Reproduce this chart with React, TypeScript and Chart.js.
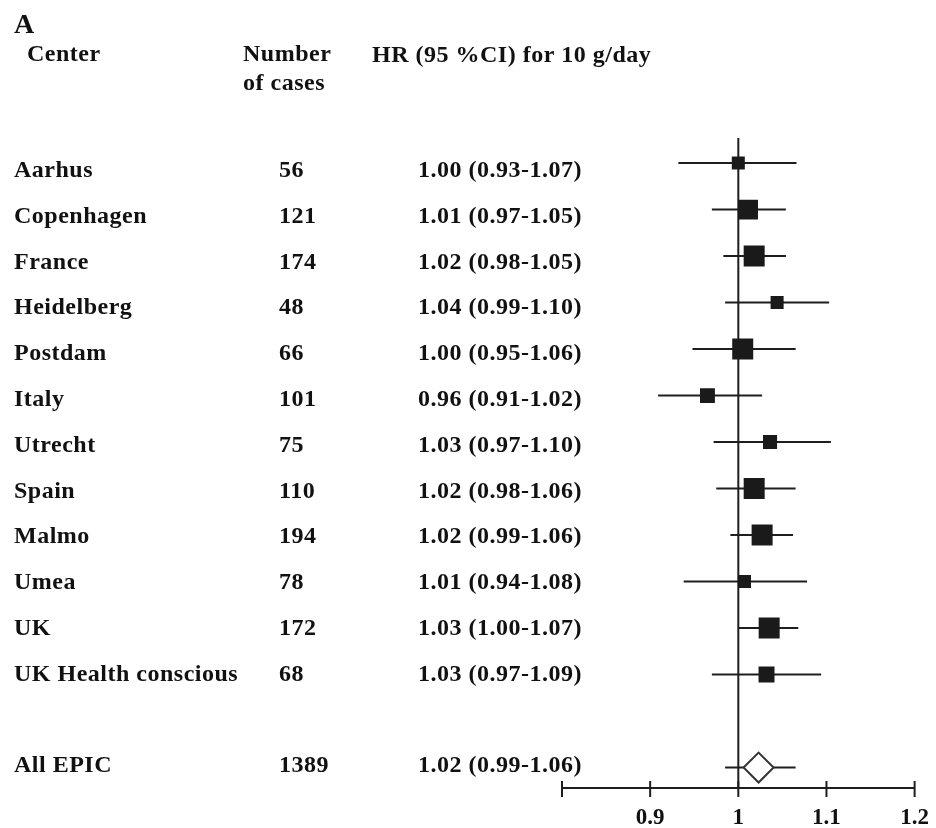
import React, { useEffect, useRef } from 'react';
import { Chart, registerables } from 'chart.js';

Chart.register(...registerables);

// ---- data ----
const centers = [
  'Aarhus', 'Copenhagen', 'France', 'Heidelberg', 'Postdam', 'Italy',
  'Utrecht', 'Spain', 'Malmo', 'Umea', 'UK', 'UK Health conscious',
];
const cases = [56, 121, 174, 48, 66, 101, 75, 110, 194, 78, 172, 68];
const hrLabels = [
  '1.00 (0.93-1.07)', '1.01 (0.97-1.05)', '1.02 (0.98-1.05)', '1.04 (0.99-1.10)',
  '1.00 (0.95-1.06)', '0.96 (0.91-1.02)', '1.03 (0.97-1.10)', '1.02 (0.98-1.06)',
  '1.02 (0.99-1.06)', '1.01 (0.94-1.08)', '1.03 (1.00-1.07)', '1.03 (0.97-1.09)',
];
const hr = [1.0, 1.011, 1.018, 1.044, 1.005, 0.965, 1.036, 1.018, 1.027, 1.007, 1.035, 1.032];
const lower = [0.932, 0.97, 0.983, 0.985, 0.948, 0.909, 0.972, 0.975, 0.991, 0.938, 1.0, 0.97];
const upper = [1.066, 1.054, 1.054, 1.103, 1.065, 1.027, 1.105, 1.065, 1.062, 1.078, 1.068, 1.094];
const weights = [0.62, 0.95, 1.0, 0.62, 1.0, 0.71, 0.67, 1.0, 1.0, 0.62, 1.0, 0.76];

const overallName = 'All EPIC';
const overallCases = 1389;
const overallLabel = '1.02 (0.99-1.06)';
const overallHr = 1.023;
const overallLower = 0.985;
const overallUpper = 1.065;

const xTickValues = [0.8, 0.9, 1, 1.1, 1.2];
const xTickLabels = ['', '0.9', '1', '1.1', '1.2'];

const panelLetter = 'A';
const headerCenter = 'Center';
const headerCases = ['Number', 'of cases'];
const headerHr = 'HR (95 %CI) for 10 g/day';

// row indices: studies 1..12, blank 13, overall 14
const studyRows = centers.map((_, i) => i + 1);
const overallRow = centers.length + 2;

const FONT = '"Liberation Serif", "Times New Roman", serif';
const INK = '#111111';

const forestPlugin = {
  id: 'forest',
  beforeDatasetsDraw(chart: any) {
    const { ctx, chartArea, scales } = chart;
    const x = scales.x;
    const y = scales.y;
    ctx.save();
    ctx.strokeStyle = '#1e1e1e';
    ctx.lineWidth = 2;
    // reference line at HR = 1
    const x1 = x.getPixelForValue(1);
    ctx.beginPath();
    ctx.moveTo(x1, chartArea.top);
    ctx.lineTo(x1, chartArea.bottom);
    ctx.stroke();
    // confidence intervals
    const drawCI = (lo: number, hi: number, row: number) => {
      const py = y.getPixelForValue(row);
      ctx.beginPath();
      ctx.moveTo(x.getPixelForValue(lo), py);
      ctx.lineTo(x.getPixelForValue(hi), py);
      ctx.stroke();
    };
    studyRows.forEach((r, i) => drawCI(lower[i], upper[i], r));
    drawCI(overallLower, overallUpper, overallRow);
    ctx.restore();
  },
  afterDraw(chart: any) {
    const { ctx, chartArea, scales } = chart;
    const x = scales.x;
    const yt = scales.yText;
    ctx.save();
    // tick marks crossing the axis
    ctx.strokeStyle = '#1e1e1e';
    ctx.lineWidth = 2;
    x.ticks.forEach((t: any) => {
      const px = x.getPixelForValue(t.value);
      ctx.beginPath();
      ctx.moveTo(px, chartArea.bottom - 7);
      ctx.lineTo(px, chartArea.bottom + 9);
      ctx.stroke();
    });

    ctx.fillStyle = INK;
    ctx.textAlign = 'left';
    ctx.textBaseline = 'alphabetic';
    (ctx as any).letterSpacing = '0.5px';
    ctx.font = `bold 24px ${FONT}`;
    const colName = 14;
    const colCases = 279;
    const colHr = 418;
    studyRows.forEach((r, i) => {
      const py = yt.getPixelForValue(r);
      ctx.fillText(centers[i], colName, py);
      ctx.fillText(String(cases[i]), colCases, py);
      ctx.fillText(hrLabels[i], colHr, py);
    });
    const po = yt.getPixelForValue(overallRow);
    ctx.fillText(overallName, colName, po);
    ctx.fillText(String(overallCases), colCases, po);
    ctx.fillText(overallLabel, colHr, po);

    // headers
    ctx.fillText(headerCenter, 27, 61);
    ctx.fillText(headerCases[0], 243, 61);
    ctx.fillText(headerCases[1], 243, 90);
    ctx.fillText(headerHr, 372, 62);
    ctx.font = `bold 28px ${FONT}`;
    (ctx as any).letterSpacing = '0px';
    ctx.fillText(panelLetter, 14, 33);
    ctx.restore();
  },
};

export default function App() {
  const canvasRef = useRef<HTMLCanvasElement | null>(null);

  useEffect(() => {
    const canvas = canvasRef.current;
    if (!canvas) return;
    const chart = new Chart(canvas, {
      type: 'scatter',
      data: {
        datasets: [
          {
            label: 'studies',
            data: hr.map((v, i) => ({ x: v, y: studyRows[i] })),
            pointStyle: 'rect',
            pointRadius: weights.map((w) => (21 * w) / Math.SQRT2),
            pointHoverRadius: weights.map((w) => (21 * w) / Math.SQRT2),
            backgroundColor: '#1a1a1a',
            borderWidth: 0,
            showLine: false,
          },
          {
            label: 'overall',
            data: [{ x: overallHr, y: overallRow }],
            pointStyle: 'rectRot',
            pointRadius: 15,
            pointHoverRadius: 15,
            backgroundColor: '#ffffff',
            borderColor: '#333',
            borderWidth: 2,
            showLine: false,
          },
        ],
      },
      options: {
        animation: false,
        responsive: false,
        maintainAspectRatio: false,
        devicePixelRatio: 1,
        layout: { padding: { left: 562, right: 19, top: 138, bottom: 0 } },
        plugins: {
          legend: { display: false },
          tooltip: { enabled: false },
        },
        events: [],
        scales: {
          x: {
            type: 'linear',
            position: 'bottom',
            min: 0.8,
            max: 1.2,
            afterFit: (scale: any) => {
              scale.height = 40;
            },
            border: { display: true, color: '#1e1e1e', width: 2 },
            grid: {
              display: true,
              drawOnChartArea: false,
              drawTicks: true,
              tickLength: 9,
              color: 'rgba(0,0,0,0)',
            },
            ticks: {
              stepSize: 0.1,
              padding: 7,
              color: INK,
              font: { family: FONT, size: 23, weight: 'bold' },
              maxRotation: 0,
              autoSkip: false,
              callback: (v: any) => {
                const idx = xTickValues.findIndex((t) => Math.abs(t - Number(v)) < 1e-6);
                return idx >= 0 ? xTickLabels[idx] : '';
              },
            },
          },
          y: {
            type: 'linear',
            display: false,
            reverse: true,
            min: 0.46,
            max: 14.44,
          },
          yText: {
            type: 'linear',
            axis: 'y',
            position: 'left',
            display: false,
            reverse: true,
            min: 0.1485,
            max: 14.34,
          },
        },
      } as any,
      plugins: [forestPlugin],
    });
    return () => chart.destroy();
  }, []);

  return (
    <div style={{ position: 'fixed', left: 0, top: 0, width: 936, height: 828, background: '#fff' }}>
      <canvas ref={canvasRef} width={936} height={828} style={{ display: 'block', width: 936, height: 828 }} />
    </div>
  );
}
